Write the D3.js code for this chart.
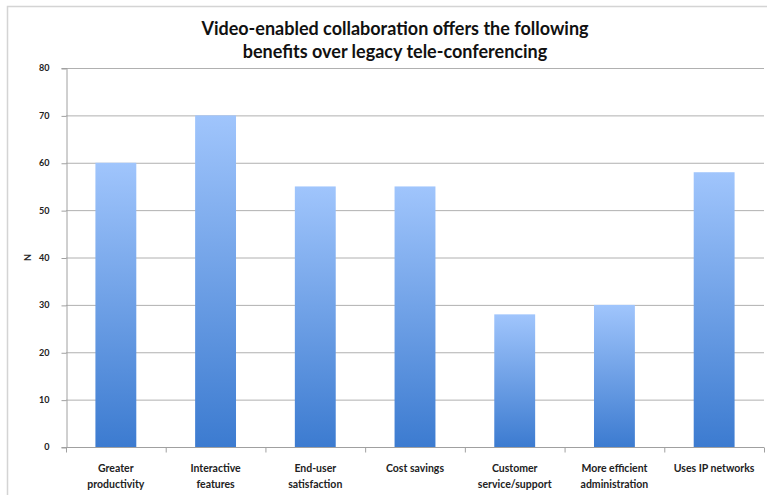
<!DOCTYPE html>
<html><head><meta charset="utf-8">
<script src="https://cdn.jsdelivr.net/npm/d3@7"></script>
<style>html,body{margin:0;padding:0;background:#fff;}svg{display:block;}</style>
</head><body>
<svg id="c" width="767" height="495"></svg>
<script>
const categories = [["Greater","productivity"],["Interactive","features"],["End-user","satisfaction"],["Cost savings"],["Customer","service/support"],["More efficient","administration"],["Uses IP networks"]];
const values = [60, 70, 55, 55, 28, 30, 58];
const yTicks = [0, 10, 20, 30, 40, 50, 60, 70, 80];
const titleLines = ["Video-enabled collaboration offers the following", "benefits over legacy tele-conferencing"];
const yLabel = "N";

const svg = d3.select("#c");
const m = {left: 66, right: 764, top: 68, bottom: 447};
const font = "Lato, 'Open Sans', sans-serif";

svg.append("rect").attr("x", 7.5).attr("y", 6.5).attr("width", 780).attr("height", 500)
  .attr("fill", "none").attr("stroke", "#d4d4d4").attr("stroke-width", 1.5);

const defs = svg.append("defs");
const g = defs.append("linearGradient").attr("id", "bg").attr("x1", 0).attr("y1", 0).attr("x2", 0).attr("y2", 1);
g.append("stop").attr("offset", "0%").attr("stop-color", "#a0c5fc");
g.append("stop").attr("offset", "100%").attr("stop-color", "#3c7bd0");

const x = d3.scaleBand().domain(d3.range(categories.length)).range([m.left, m.right]).paddingInner(0.59).paddingOuter(0.295);
const y = d3.scaleLinear().domain([0, 80]).range([m.bottom, m.top]);

// gridlines
svg.append("g").selectAll("line").data(yTicks.filter(d => d > 0)).join("line")
  .attr("x1", m.left).attr("x2", m.right).attr("y1", d => y(d) + 0.5).attr("y2", d => y(d) + 0.5)
  .attr("stroke", "#b0b0b0").attr("stroke-width", 1);

// y axis
const ya = svg.append("g").attr("transform", `translate(${m.left + 0.5},0)`)
  .call(d3.axisLeft(y).tickValues(yTicks).tickSize(5).tickPadding(12));
ya.select(".domain").attr("stroke", "#a0a0a0");
ya.selectAll(".tick line").attr("stroke", "#a0a0a0").attr("transform", "translate(0,0.5)");
ya.selectAll(".tick text").attr("font-family", font).attr("font-weight", "bold").attr("font-size", 9).attr("fill", "#222");

// bars
svg.append("g").selectAll("rect").data(values).join("rect")
  .attr("x", (d, i) => x(i)).attr("width", x.bandwidth())
  .attr("y", d => y(d)).attr("height", d => y(0) - y(d))
  .attr("fill", "url(#bg)");

// x axis
const xa = svg.append("g").attr("transform", `translate(0,${m.bottom + 0.5})`);
xa.append("line").attr("x1", m.left).attr("x2", m.right).attr("stroke", "#a0a0a0");
xa.selectAll("line.t").data(d3.range(categories.length + 1)).join("line").attr("class", "t")
  .attr("x1", i => m.left + i * (m.right - m.left) / categories.length + 0.5)
  .attr("x2", i => m.left + i * (m.right - m.left) / categories.length + 0.5)
  .attr("y1", 0).attr("y2", 5).attr("stroke", "#a0a0a0");
xa.selectAll("text").data(categories).join("text")
  .attr("x", (d, i) => x(i) + x.bandwidth() / 2).attr("y", 24)
  .attr("text-anchor", "middle").attr("font-family", font).attr("font-weight", "bold").attr("font-size", 10.5).attr("fill", "#222")
  .each(function(d) {
    d3.select(this).selectAll("tspan").data(d).join("tspan")
      .attr("x", d3.select(this).attr("x")).attr("dy", (t, k) => k === 0 ? 0 : 16).text(t => t);
  });

// y label
svg.append("text").attr("transform", `translate(31,${y(40)}) rotate(-90)`).attr("text-anchor", "middle")
  .attr("font-family", font).attr("font-weight", "bold").attr("font-size", 9).attr("fill", "#222").text(yLabel);

// title
svg.append("text").attr("x", 395).attr("y", 35).attr("text-anchor", "middle")
  .attr("font-family", font).attr("font-weight", "bold").attr("font-size", 18).attr("fill", "#111")
  .selectAll("tspan").data(titleLines).join("tspan").attr("x", 395).attr("dy", (t, k) => k === 0 ? 0 : 23).text(t => t);
</script>
</body></html>
